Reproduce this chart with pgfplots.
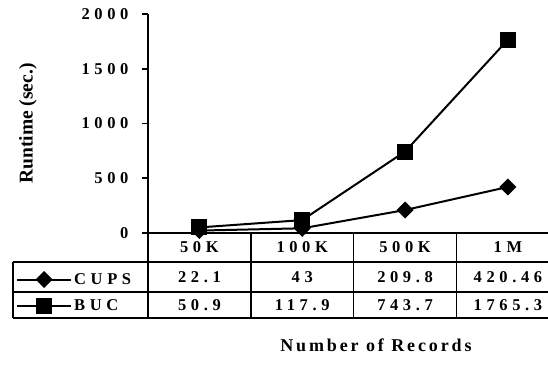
\documentclass[border=0pt]{standalone}
\usepackage{fontspec}
\setmainfont{Liberation Serif}
\usepackage{pgfplots}
\pgfplotsset{compat=1.18}
\newfontfamily\spfont{Liberation Serif Bold}[LetterSpace=28]
\newfontfamily\spfonttitle{Liberation Serif Bold}[LetterSpace=16]
\newcommand{\tf}{\fontsize{16.5}{16.5}\selectfont\spfont}
\begin{document}
\begin{tikzpicture}
\begin{axis}[
  at={(0pt,0pt)}, anchor=south west,
  scale only axis, width=400pt, height=219pt,
  xmin=-0.5, xmax=3.39, ymin=0, ymax=2000,
  clip=false,
  axis x line=bottom, axis y line=left,
  axis line style={-, line width=1.6pt},
  xtick=\empty,
  ytick={0,500,1000,1500,2000},
  tick align=outside, major tick length=6pt,
  tick style={line width=1.6pt, black},
  /pgf/number format/assume math mode=true,
  /pgf/number format/1000 sep={},
  yticklabel style={font=\tf, xshift=-10pt},
  legend style={at={(axis description cs:-0.33,-0.174)}, anchor=north west, draw=none, fill=none, inner sep=0pt, font=\tf, row sep=10pt, nodes={inner sep=2pt, anchor=west}},
  legend cell align=left,
  legend image code/.code={\draw[mark repeat=2, mark phase=2, #1] plot coordinates {(0pt,0pt) (27pt,0pt) (54pt,0pt)};},
]
\addplot[black, line width=2pt, mark=square*, mark size=5pt, mark options={rotate=45, solid, fill=black}] coordinates {(0,22.1) (1,43) (2,209.8) (3,420.46)};
\addlegendentry{CUPS}
\addplot[black, line width=2pt, mark=square*, mark size=7pt, mark options={solid, fill=black}] coordinates {(0,50.9) (1,117.9) (2,743.7) (3,1765.3)};
\addlegendentry{BUC}
% table grid
\draw[line width=1.6pt] ([xshift=-135pt,yshift=-29pt]rel axis cs:0,0) -- ([yshift=-29pt]rel axis cs:1,0);
\draw[line width=1.6pt] ([xshift=-135pt,yshift=-59pt]rel axis cs:0,0) -- ([yshift=-59pt]rel axis cs:1,0);
\draw[line width=1.6pt] ([xshift=-135pt,yshift=-85pt]rel axis cs:0,0) -- ([yshift=-85pt]rel axis cs:1,0);
\draw[line width=1.6pt] ([xshift=-135pt,yshift=-29pt]rel axis cs:0,0) -- ([xshift=-135pt,yshift=-85pt]rel axis cs:0,0);
\draw[line width=1.6pt] (rel axis cs:0,0) -- ([yshift=-85pt]rel axis cs:0,0);
\draw[line width=1.6pt] (axis cs:0.5,0) -- ([yshift=-85pt]axis cs:0.5,0);
\draw[line width=1.6pt] (axis cs:1.5,0) -- ([yshift=-85pt]axis cs:1.5,0);
\draw[line width=1.6pt] (axis cs:2.5,0) -- ([yshift=-85pt]axis cs:2.5,0);
% category labels and values
\foreach \c/\lab in {0/50K,1/100K,2/500K,3/1M}{
  \edef\tmp{\noexpand\node[font=\noexpand\tf] at ([yshift=-14.5pt]axis cs:\c,0) {\lab};}\tmp
}
\foreach \c/\v in {0/22.1,1/43,2/209.8,3/420.46}{
  \edef\tmp{\noexpand\node[font=\noexpand\tf] at ([yshift=-44pt]axis cs:\c,0) {\v};}\tmp
}
\foreach \c/\v in {0/50.9,1/117.9,2/743.7,3/1765.3}{
  \edef\tmp{\noexpand\node[font=\noexpand\tf] at ([yshift=-72pt]axis cs:\c,0) {\v};}\tmp
}
\node[font=\fontsize{18}{18}\selectfont\spfonttitle] at ([yshift=-112pt]rel axis cs:0.57,0) {Number of Records};
\node[rotate=90, font=\fontsize{19.5}{19.5}\selectfont\bfseries] at ([xshift=-120pt]rel axis cs:0,0.5) {Runtime (sec.)};
\end{axis}
\pgfresetboundingbox
\useasboundingbox (-148pt,-131pt) rectangle (400pt,233pt);
\end{tikzpicture}
\end{document}
